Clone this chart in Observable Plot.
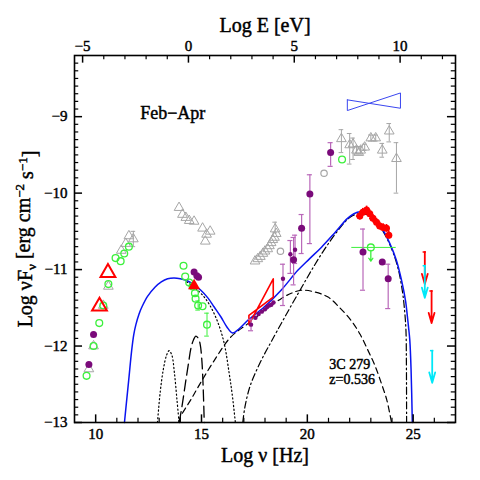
<!DOCTYPE html>
<html><head><meta charset="utf-8">
<script src="https://cdn.jsdelivr.net/npm/d3@7"></script>
<script src="https://cdn.jsdelivr.net/npm/@observablehq/plot@0.6"></script>
<style>body{margin:0;background:#fff}</style>
</head><body><div id="chart"></div>
<script>
const H_EV = 14.383; // log nu [Hz] = log E [eV] + 14.383
const xTickLabels = [10, 15, 20, 25];
const eTickLabels = [-5, 0, 5, 10];
const yTickLabels = [-13, -12, -11, -10, -9];

// ---- model curves (log nu, log nuFnu)
const totalX = [11.36,11.45,11.56,11.70,11.80,11.90,12.05,12.2,12.45,12.8,13.1,13.4,13.7,14.0,14.35,14.65,14.97,15.3,15.6,15.92,16.2,16.47,16.75,17.2,17.96,18.76,19.55,20.1,20.66,21.29,21.9,22.2,22.5,22.8,23.1,23.5,23.9,24.21,24.45,24.64,24.73,24.78,24.84,24.90,24.96];
const totalY = [-13.0,-12.75,-12.45,-12.06,-11.85,-11.72,-11.58,-11.48,-11.35,-11.23,-11.16,-11.12,-11.11,-11.12,-11.15,-11.2,-11.27,-11.37,-11.49,-11.62,-11.75,-11.83,-11.78,-11.66,-11.49,-11.27,-11.01,-10.86,-10.71,-10.52,-10.33,-10.27,-10.245,-10.26,-10.32,-10.45,-10.66,-10.88,-11.14,-11.41,-11.62,-11.75,-11.92,-12.3,-13.0];
const synX = [14.3,14.7,15.1,15.4,15.7,15.92,16.1,16.31,16.45,16.6];
const synY = [-11.16,-11.24,-11.35,-11.47,-11.64,-11.81,-12.0,-12.36,-12.63,-13.0];
const dustX = [12.92,13.05,13.2,13.35,13.47,13.6,13.72,13.84,13.94];
const dustY = [-13.0,-12.6,-12.3,-12.12,-12.06,-12.12,-12.35,-12.7,-13.0];
const diskX = [13.95,14.1,14.26,14.4,14.5,14.62,14.73,14.85,14.94,15.02,15.08,15.13];
const diskY = [-13.0,-12.75,-12.45,-12.2,-12.03,-11.92,-11.87,-11.9,-11.98,-12.2,-12.55,-13.0];
const sscX = [13.93,14.0,14.5,15.0,15.6,16.39,17.18,18.0,18.76,19.24,19.71,20.3,20.98,21.5,22.08,22.5,22.87,23.2,23.5,23.75,23.9,23.98];
const sscY = [-13.0,-12.93,-12.70,-12.46,-12.19,-11.88,-11.71,-11.53,-11.38,-11.31,-11.27,-11.29,-11.36,-11.49,-11.67,-11.85,-12.06,-12.26,-12.49,-12.7,-12.89,-13.0];
const ecX = [16.95,17.05,17.3,17.8,18.3,19.55,20.66,21.5,22.0,22.4,22.8,23.2,23.6,24.0,24.3,24.5,24.6,24.66,24.68,24.69];
const ecY = [-13.0,-12.8,-12.52,-12.2,-11.94,-11.32,-10.8,-10.47,-10.32,-10.27,-10.28,-10.36,-10.51,-10.74,-11.0,-11.3,-11.55,-11.8,-12.2,-13.0];

// ---- data
const greenPts = [[9.57,-12.39],[9.90,-12.0],[10.17,-11.70],[10.36,-11.47],[10.60,-11.19],[10.94,-10.85],[11.18,-10.89],[11.35,-10.79],[11.57,-10.70],
  [14.15,-10.95],[14.23,-11.09],[14.42,-11.17],[14.58,-11.22],[14.69,-11.31],[14.72,-11.38],[14.84,-11.47],[15.05,-11.48],[15.26,-11.72],[21.64,-9.56]];
const greenErr = [[14.84,-11.53,-11.41],[15.26,-11.87,-11.57]];
const greyTri = [[9.68,-12.30],[9.90,-12.0],[10.36,-11.47],[10.60,-11.22],[11.21,-10.75],[11.42,-10.66],[11.57,-10.56],[11.78,-10.60],
  [13.94,-10.19],[14.10,-10.28],[14.26,-10.32],[14.42,-10.36],[14.65,-10.37],[15.05,-10.46],[15.41,-10.50],[15.24,-10.54],[15.18,-10.63],
  [17.53,-10.89],[17.66,-10.86],[17.78,-10.83],[17.90,-10.79],[18.00,-10.76],[18.13,-10.73],[18.21,-10.69],[18.29,-10.65],[18.37,-10.61],[18.45,-10.58],[18.53,-10.53],[18.48,-10.47]];
const greyCircle = [[18.73,-10.76],[20.79,-9.74]];
const greyErr = [[11.78,-10.70,-10.50],[18.48,-10.52,-10.38],[21.61,-9.47,-9.17],[22.00,-9.62,-9.22],[22.16,-9.56,-9.28],[22.32,-9.49,-9.39],[22.52,-9.49,-9.39],[22.71,-9.44,-9.36],[23.00,-9.32,-9.24],[23.23,-9.32,-9.24],[23.54,-9.53,-9.35],[23.87,-9.33,-9.09],[24.21,-10.0,-9.34]];
const gammaGrey = [[21.61,-9.29],[22.00,-9.37],[22.16,-9.36],[22.32,-9.44],[22.43,-9.47],[22.52,-9.44],[22.71,-9.40],[23.00,-9.28],[23.23,-9.28],[23.54,-9.44],[23.87,-9.19],[24.21,-9.55]];
const purpleBig = [[9.68,-12.24],[9.90,-11.85],[14.65,-11.03],[14.78,-11.08],[14.86,-11.10],[19.35,-10.87],[19.73,-10.46],[20.12,-10.01],[21.10,-9.47],[22.63,-10.77],[23.54,-10.90],[23.82,-11.12]];
const purpleSmall = [[17.34,-11.72],[17.55,-11.63],[17.7,-11.58],[17.85,-11.55],[18.0,-11.52],[18.1,-11.49],[18.2,-11.47],[18.3,-11.46],[18.4,-11.43],[18.85,-11.12],[19.2,-10.80],[19.42,-10.74]];
const purpleErr = [[17.34,-11.80,-11.65],[18.85,-11.47,-10.93],[19.2,-11.05,-10.62],[19.35,-11.20,-10.58],[19.42,-10.92,-10.55],[19.73,-10.79,-10.28],[20.12,-10.66,-9.76],[21.10,-9.65,-9.34],[22.63,-11.27,-10.47],[23.82,-11.51,-10.93]];
const redOpenTri = [[10.18,-11.48],[10.58,-11.04]];
const redFillTri = [[14.65,-11.21]];
const redGamma = [[22.48,-10.30],[22.62,-10.25],[22.80,-10.22],[22.95,-10.27],[23.10,-10.33],[23.27,-10.38],[23.42,-10.43],[23.58,-10.45],[23.74,-10.46],[23.85,-10.55]];
const redBowX = [17.24,18.39,18.39,17.24,17.24];
const redBowY = [-11.60,-11.36,-11.12,-11.72,-11.60];
const blueBowX = [21.89,24.40,24.40,21.89,21.89];
const blueBowY = [-8.78,-8.89,-8.69,-8.92,-8.78];
const greenUL = [[23.0,-10.71,22.1,24.2]];
const redUL = [[25.55,-10.77],[25.87,-11.28]];
const cyanUL = [[25.55,-10.95],[25.90,-12.06]];

const FONT = "Liberation Serif";
const Y0 = -13, Y1 = -8.2, X0 = 9, X1 = 27;
const xMinor = d3.range(10, 27, 1).filter(v => !xTickLabels.includes(v));
const eMinor = d3.range(-5, 13, 1).filter(v => !eTickLabels.includes(v)).map(e => e + H_EV).filter(v => v < X1);
const eMajor = eTickLabels.map(e => e + H_EV);
const yMinor = d3.range(-129, -82, 1).map(v => v / 10).filter(v => !yTickLabels.includes(v));
const P = d => d[0], Q = d => d[1];
const zip = (a, b) => d3.zip(a, b);
const fmtInt = v => { const e = Math.round(v); return e < 0 ? "\u2212" + (-e) : String(e); };

const grey = "#a6a6a6", green = "#3cf03c", purple = "#7a0a7a", purpleBar = "#b968b9", red = "#ff0000", cyan = "#00e8f8", blue = "#0a14f0";

const chart = Plot.plot({
  width: 480, height: 480,
  marginLeft: 74, marginRight: 25, marginTop: 55, marginBottom: 58,
  style: {fontFamily: FONT, fontSize: "15px", background: "white", color: "black"},
  x: {domain: [X0, X1]},
  y: {domain: [Y0, Y1]},
  marks: [
    // model curves
    Plot.line(zip(dustX, dustY), {x: P, y: Q, stroke: "black", strokeWidth: 1.2, strokeDasharray: "1.2,2.6", curve: "catmull-rom"}),
    Plot.line(zip(synX, synY), {x: P, y: Q, stroke: "black", strokeWidth: 1.2, strokeDasharray: "1.2,2.6", curve: "catmull-rom"}),
    Plot.line(zip(diskX, diskY), {x: P, y: Q, stroke: "black", strokeWidth: 1.3, strokeDasharray: "11,5", curve: "catmull-rom"}),
    Plot.line(zip(sscX, sscY), {x: P, y: Q, stroke: "black", strokeWidth: 1.2, strokeDasharray: "6,4", curve: "catmull-rom"}),
    Plot.line(zip(ecX, ecY), {x: P, y: Q, stroke: "black", strokeWidth: 1.2, strokeDasharray: "7,3,1.5,3", curve: "catmull-rom"}),
    Plot.line(zip(totalX, totalY), {x: P, y: Q, stroke: blue, strokeWidth: 1.5, curve: "catmull-rom"}),
    // bowties
    Plot.line(zip(blueBowX, blueBowY), {x: P, y: Q, stroke: "#3a46f0", strokeWidth: 1}),
    Plot.line(zip(redBowX, redBowY), {x: P, y: Q, stroke: red, strokeWidth: 1.6}),
    // grey data
    Plot.ruleX(greyErr, {x: P, y1: d => d[1], y2: d => d[2], stroke: grey}),
    Plot.ruleY(greyErr, {y: d => d[1], x1: d => d[0] - 0.11, x2: d => d[0] + 0.11, stroke: grey}),
    Plot.ruleY(greyErr, {y: d => d[2], x1: d => d[0] - 0.11, x2: d => d[0] + 0.11, stroke: grey}),
    Plot.dot(greyTri.concat(gammaGrey), {x: P, y: Q, symbol: "triangle", r: 3.6, stroke: grey, fill: "none", strokeWidth: 1}),
    Plot.dot(greyCircle, {x: P, y: Q, symbol: "circle", r: 3.2, stroke: grey, strokeWidth: 1.2}),
    // green data
    Plot.ruleX(greenErr, {x: P, y1: d => d[1], y2: d => d[2], stroke: green}),
    Plot.ruleY(greenErr, {y: d => d[1], x1: d => d[0] - 0.11, x2: d => d[0] + 0.11, stroke: green}),
    Plot.ruleY(greenErr, {y: d => d[2], x1: d => d[0] - 0.11, x2: d => d[0] + 0.11, stroke: green}),
    Plot.dot(greenPts, {x: P, y: Q, r: 3.4, stroke: green, strokeWidth: 1.3}),
    Plot.ruleY(greenUL, {y: Q, x1: d => d[2], x2: d => d[3], stroke: green, strokeWidth: 1}),
    Plot.dot(greenUL, {x: P, y: Q, r: 3.4, stroke: green, strokeWidth: 1.3}),
    Plot.arrow(greenUL, {x1: P, x2: P, y1: d => d[1] - 0.04, y2: d => d[1] - 0.18, stroke: green, strokeWidth: 1.3, headLength: 6, headAngle: 70}),
    // purple data
    Plot.ruleX(purpleErr, {x: P, y1: d => d[1], y2: d => d[2], stroke: purpleBar, strokeWidth: 1.2}),
    Plot.ruleY(purpleErr, {y: d => d[1], x1: d => d[0] - 0.12, x2: d => d[0] + 0.12, stroke: purpleBar, strokeWidth: 1.2}),
    Plot.ruleY(purpleErr, {y: d => d[2], x1: d => d[0] - 0.12, x2: d => d[0] + 0.12, stroke: purpleBar, strokeWidth: 1.2}),
    Plot.dot(purpleSmall, {x: P, y: Q, r: 2.2, fill: purple}),
    Plot.dot(purpleBig, {x: P, y: Q, r: 3.5, fill: purple}),
    // red data
    Plot.ruleY(redGamma, {y: Q, x1: d => d[0] - 0.16, x2: d => d[0] + 0.16, stroke: red, strokeWidth: 1.6}),
    Plot.ruleX(redGamma, {x: P, y1: d => d[1] - 0.05, y2: d => d[1] + 0.05, stroke: red, strokeWidth: 1.6}),
    Plot.dot(redGamma, {x: P, y: Q, r: 3.5, fill: red}),
    Plot.dot(redOpenTri, {x: P, y: Q, symbol: "triangle", r: 5.5, stroke: red, strokeWidth: 2, fill: "none"}),
    Plot.dot(redFillTri, {x: P, y: Q, symbol: "triangle", r: 4.5, fill: red}),
    // upper limits
    Plot.ruleY(redUL, {y: Q, x1: d => d[0] - 0.08, x2: d => d[0] + 0.08, stroke: red, strokeWidth: 1.5}),
    Plot.arrow(redUL, {x1: P, x2: P, y1: Q, y2: d => d[1] - 0.42, stroke: red, strokeWidth: 1.8, headLength: 13, headAngle: 32}),
    Plot.ruleY(cyanUL, {y: Q, x1: d => d[0] - 0.08, x2: d => d[0] + 0.08, stroke: cyan, strokeWidth: 1.5}),
    Plot.arrow(cyanUL, {x1: P, x2: P, y1: Q, y2: d => d[1] - 0.42, stroke: cyan, strokeWidth: 1.8, headLength: 13, headAngle: 32}),
    // frame & inward ticks
    Plot.frame({stroke: "black", strokeWidth: 1.6}),
    Plot.ruleX(xMinor, {x: d => d, y1: Y0, y2: Y0 + 0.055, stroke: "black", strokeWidth: 1.2}),
    Plot.ruleX(xTickLabels, {x: d => d, y1: Y0, y2: Y0 + 0.1, stroke: "black", strokeWidth: 1.5}),
    Plot.ruleX(eMinor, {x: d => d, y1: Y1, y2: Y1 - 0.055, stroke: "black", strokeWidth: 1.2}),
    Plot.ruleX(eMajor, {x: d => d, y1: Y1, y2: Y1 - 0.1, stroke: "black", strokeWidth: 1.5}),
    Plot.ruleY(yMinor, {y: d => d, x1: X0, x2: X0 + 0.2, stroke: "black", strokeWidth: 1.2}),
    Plot.ruleY(yTickLabels, {y: d => d, x1: X0, x2: X0 + 0.38, stroke: "black", strokeWidth: 1.5}),
    Plot.ruleY(yMinor, {y: d => d, x1: X1, x2: X1 - 0.2, stroke: "black", strokeWidth: 1.2}),
    Plot.ruleY(yTickLabels, {y: d => d, x1: X1, x2: X1 - 0.38, stroke: "black", strokeWidth: 1.5}),
    // axes labels
    Plot.axisX(xTickLabels, {anchor: "bottom", tickSize: 0, tickPadding: 6, label: null, fontSize: 15, tickFormat: fmtInt}),
    Plot.axisX(eMajor, {anchor: "top", tickSize: 0, tickPadding: 5, label: null, fontSize: 15, tickFormat: v => fmtInt(v - H_EV)}),
    Plot.axisY(yTickLabels, {anchor: "left", tickSize: 0, tickPadding: 7, label: null, fontSize: 15, tickFormat: fmtInt}),
    Plot.text(["Log E [eV]"], {frameAnchor: "top", dy: -30, lineAnchor: "middle", textAnchor: "middle", fontSize: 20}),
    Plot.text(["Log \u03bd [Hz]"], {frameAnchor: "bottom", dy: 33, lineAnchor: "middle", textAnchor: "middle", fontSize: 20}),
    Plot.text(["YLABEL"], {frameAnchor: "left", dx: -49, rotate: -90, lineAnchor: "middle", textAnchor: "middle", fontSize: 20}),
    Plot.text(["Feb\u2212Apr"], {x: 13.64, y: -8.96, fontSize: 18}),
    Plot.text(["3C 279"], {x: 21.04, y: -12.24, fontSize: 14, textAnchor: "start"}),
    Plot.text(["z=0.536"], {x: 21.04, y: -12.435, fontSize: 14, textAnchor: "start"})
  ]
});
document.getElementById("chart").appendChild(chart);

// rich y label: Log νF_ν [erg cm^-2 s^-1]
d3.select(chart).selectAll("text").filter(function() { return this.textContent === "YLABEL"; }).each(function() {
  const t = d3.select(this).text(null);
  t.append("tspan").text("Log \u03bdF");
  t.append("tspan").attr("dy", "0.3em").attr("font-size", "13px").text("\u03bd");
  t.append("tspan").attr("dy", "-0.3em").text(" [erg cm");
  t.append("tspan").attr("dy", "-0.45em").attr("font-size", "13px").text("\u22122");
  t.append("tspan").attr("dy", "0.45em").text(" s");
  t.append("tspan").attr("dy", "-0.45em").attr("font-size", "13px").text("\u22121");
  t.append("tspan").attr("dy", "0.45em").text("]");
});
// slightly heavier glyph strokes, like the original plotting font
d3.select(chart).selectAll("text").attr("stroke", "black").attr("stroke-width", 0.45).attr("paint-order", "stroke");
</script>
</body></html>
